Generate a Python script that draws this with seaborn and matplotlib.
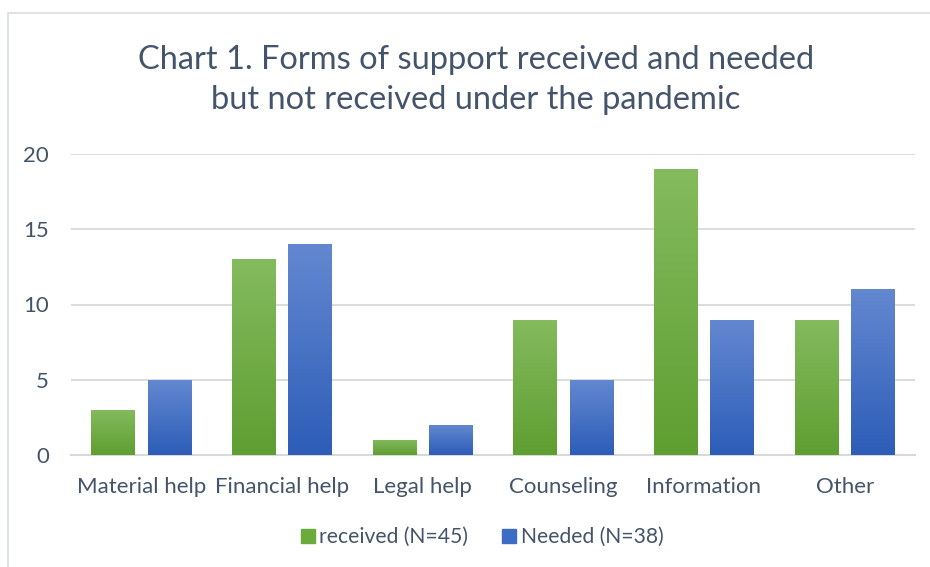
import numpy as np
import pandas as pd
import matplotlib
matplotlib.use("Agg")
import matplotlib.pyplot as plt
import seaborn as sns
from matplotlib.patches import Rectangle
from matplotlib.colors import LinearSegmentedColormap
from matplotlib.lines import Line2D

categories = ["Material help", "Financial help", "Legal help", "Counseling", "Information", "Other"]
received = [3, 13, 1, 9, 19, 9]
needed = [5, 14, 2, 5, 9, 11]
series_names = ["received (N=45)", "Needed (N=38)"]
title = "Chart 1. Forms of support received and needed\nbut not received under the pandemic"

df = pd.DataFrame({
    "category": categories * 2,
    "value": received + needed,
    "series": [series_names[0]] * len(categories) + [series_names[1]] * len(categories),
})

sns.set_theme(style="white")
plt.rcParams["font.family"] = ["Lato", "DejaVu Sans"]

text_color = "#44546a"
grid_color = "#d9d9d9"
green_top, green_bot = "#84bb5e", "#5f9e31"
blue_top, blue_bot = "#6388d0", "#2d5db8"

fig = plt.figure(figsize=(9.3, 5.67), dpi=100)
ax = fig.add_axes([71 / 930, 1 - 455 / 567, (915 - 71) / 930, (455 - 154) / 567])

sns.barplot(data=df, x="category", y="value", hue="series", order=categories,
            hue_order=series_names, palette=[green_bot, blue_bot], width=0.8, gap=0.22,
            ax=ax, legend=False, zorder=3)

# gradient fill on bars
cmaps = [LinearSegmentedColormap.from_list("g", [green_bot, green_top]),
         LinearSegmentedColormap.from_list("b", [blue_bot, blue_top])]
grad = np.linspace(0, 1, 256).reshape(-1, 1)
for i, container in enumerate(ax.containers):
    for bar in container:
        x0, y0 = bar.get_x(), bar.get_y()
        w, h = bar.get_width(), bar.get_height()
        im = ax.imshow(grad, cmap=cmaps[i], origin="lower", aspect="auto",
                       extent=[x0, x0 + w, y0, y0 + h], zorder=4, interpolation="bilinear")
        im.set_clip_path(bar)
        bar.set_alpha(0)

ax.set_xlim(-0.5, 5.5)
ax.set_ylim(0, 20)
ax.set_yticks([0, 5, 10, 15, 20])
ax.yaxis.grid(True, color=grid_color, linewidth=1.3, zorder=0)
ax.set_axisbelow(True)
for s in ["top", "right", "left"]:
    ax.spines[s].set_visible(False)
ax.spines["bottom"].set_color(grid_color)
ax.spines["bottom"].set_linewidth(1.5)
ax.set_xlabel("")
ax.set_ylabel("")
ax.tick_params(axis="both", length=0, labelsize=16, colors=text_color)
ax.tick_params(axis="x", pad=16)
ax.tick_params(axis="y", pad=16)

fig.text(476 / 930, 1 - 80 / 567, title, ha="center", va="center", fontsize=23.5,
         color=text_color, linespacing=1.42)

# legend
handles = [Line2D([], [], marker="s", linestyle="", markersize=10, markerfacecolor=c,
                  markeredgecolor=c) for c in ["#6aab3c", "#3d6cc4"]]
fig.legend(handles, series_names, loc="center", bbox_to_anchor=(481 / 930, 1 - 537 / 567),
           ncol=2, frameon=False, fontsize=15.2, labelcolor=text_color,
           handletextpad=0.1, columnspacing=1.5, handlelength=0.9)

# chart frame
fig.patches.append(Rectangle((8 / 930, -0.1), 1.2, 1 - 13 / 567 + 0.1, transform=fig.transFigure,
                             fill=False, edgecolor="#d9dde3", linewidth=1.2))

fig.savefig("out.png", dpi=100)
